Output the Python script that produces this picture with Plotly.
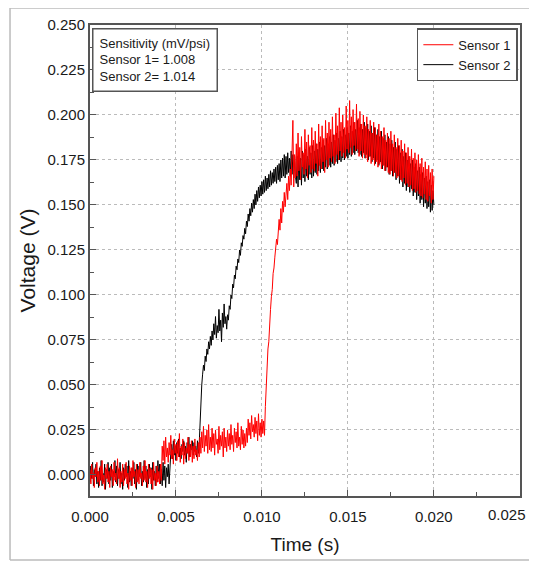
import numpy as np
import plotly.graph_objects as go

# samples every 0.05 ms from 0 to 20 ms; one row below = 1 ms
SAMPLE_MS = 0.05

# Sensor 1 (red), millivolts
sensor1_mv = [
    3, -5, 6, -2, 1, -7, 4, -1, 7, -4, 2, -6, 5, -3, 8, -5, 0, -8, 4, -2,
    6, -4, 2, -7, 5, -1, 3, -6, 7, -3, 1, -5, 9, -2, 4, -7, 2, -4, 6, -6,
    3, -2, 7, -5, 1, -8, 5, -3, 4, -6, 8, -1, 2, -7, 6, -4, 3, -5, 7, -2,
    1, -6, 5, -3, 8, -4, 2, -7, 6, -2, 4, -5, 3, -8, 7, -3, 1, -6, 5, -4,
    2, -5, 6, -3, 16, 8, 19, 6, 21, 10, 15, 7, 18, 11, 22, 9, 14, 6, 20, 12,
    17, 8, 19, 10, 23, 7, 16, 11, 20, 6, 18, 9, 15, 12, 21, 8, 17, 10, 19, 7,
    16, 9, 20, 11, 14, 8, 18, 10, 21, 12, 24, 15, 27, 13, 22, 16, 25, 12, 28, 14,
    21, 13, 26, 15, 23, 11, 25, 17, 20, 12, 27, 14, 22, 16, 24, 10, 26, 15, 21, 13,
    25, 16, 23, 14, 28, 17, 22, 13, 26, 18, 24, 15, 29, 16, 21, 14, 27, 17, 25, 15,
    23, 16, 26, 18, 31, 22, 29, 20, 33, 24, 28, 21, 32, 23, 30, 19, 34, 22, 29, 21,
    31, 23, 30, 22, 38, 52, 60, 70, 74, 86, 92, 99, 103, 112, 115, 121, 126, 131, 128, 138,
    142, 136, 148, 140, 152, 146, 157, 149, 155, 162, 153, 166, 158, 170, 161, 174, 197, 160, 178, 165,
    184, 166, 190, 169, 182, 164, 188, 171, 179, 167, 192, 170, 185, 165, 189, 172, 183, 168, 193, 170,
    186, 169, 191, 173, 184, 166, 195, 172, 188, 170, 194, 174, 187, 168, 197, 175, 190, 171, 196, 176,
    192, 174, 199, 177, 189, 173, 201, 178, 194, 175, 204, 180, 196, 177, 200, 179, 193, 176, 205, 181,
    197, 179, 208, 182, 199, 178, 203, 183, 196, 180, 206, 181, 198, 177, 202, 180, 195, 176, 200, 178,
    194, 176, 199, 174, 192, 177, 197, 173, 190, 175, 196, 172, 193, 174, 189, 171, 195, 173, 191, 170,
    188, 172, 193, 169, 186, 171, 190, 168, 187, 167, 191, 169, 184, 166, 189, 168, 182, 165, 187, 166,
    183, 164, 186, 163, 180, 165, 184, 161, 179, 162, 182, 160, 177, 161, 181, 158, 176, 159, 179, 157,
    175, 158, 178, 156, 173, 155, 176, 154, 171, 156, 174, 153, 170, 152, 172, 155, 168, 151, 170, 153,
    166,
]

# Sensor 2 (black), millivolts
sensor2_mv = [
    -4, 5, -2, 7, -6, 3, -1, 6, -5, 2, -7, 4, -3, 8, -6, 1, -4, 6, -8, 3,
    -2, 7, -5, 4, -3, 6, -7, 2, -1, 8, -4, 5, -6, 3, -2, 7, -5, 1, -8, 4,
    -3, 6, -1, 5, -7, 8, -4, 2, -6, 4, -2, 7, -5, 3, -8, 6, -3, 5, -1, 7,
    -6, 2, -4, 8, -2, 5, -7, 3, -5, 6, -1, 4, -8, 7, -3, 2, -6, 5, -4, 8,
    -2, 6, -5, 3, -6, 7, -3, 5, -7, 4, -1, 6, -5, 8, 12, 17, 9, 19, 11, 16,
    8, 18, 12, 20, 10, 15, 9, 17, 13, 19, 11, 16, 7, 18, 12, 21, 10, 17, 14, 19,
    11, 18, 13, 16, 10, 19, 12, 17, 30, 44, 50, 56, 61, 58, 66, 63, 70, 67, 74, 70,
    77, 72, 80, 75, 84, 78, 88, 76, 83, 79, 92, 80, 86, 74, 90, 82, 95, 84, 88, 81,
    89, 86, 94, 92, 100, 98, 106, 104, 111, 109, 116, 114, 120, 118, 125, 122, 129, 127, 133, 131,
    137, 134, 141, 138, 145, 141, 148, 144, 151, 146, 153, 148, 156, 150, 158, 152, 160, 154, 161, 155,
    163, 156, 164, 157, 166, 158, 165, 159, 167, 160, 169, 161, 168, 162, 170, 163, 171, 162, 172, 164,
    173, 163, 175, 165, 176, 166, 178, 165, 177, 167, 179, 168, 176, 166, 180, 167, 178, 165, 177, 166,
    162, 177, 160, 179, 164, 176, 161, 180, 165, 178, 163, 181, 166, 177, 164, 182, 167, 179, 165, 183,
    166, 180, 168, 184, 167, 181, 169, 185, 168, 182, 170, 186, 169, 183, 171, 187, 170, 184, 172, 188,
    171, 185, 173, 189, 172, 186, 174, 190, 173, 187, 175, 191, 174, 188, 176, 192, 175, 189, 177, 193,
    176, 190, 178, 194, 177, 191, 179, 196, 178, 192, 180, 197, 179, 193, 178, 195, 177, 192, 179, 196,
    176, 193, 178, 195, 175, 191, 177, 194, 174, 190, 176, 193, 173, 189, 175, 192, 172, 188, 174, 191,
    170, 187, 172, 189, 169, 185, 171, 188, 167, 184, 169, 186, 166, 182, 168, 185, 164, 181, 166, 183,
    162, 179, 164, 181, 160, 177, 162, 179, 158, 175, 160, 177, 157, 173, 159, 175, 155, 171, 157, 173,
    153, 169, 155, 171, 151, 167, 153, 168, 149, 165, 151, 166, 148, 163, 149, 164, 146, 161, 147, 158,
    150,
]

# x tick labels (the last one is placed by hand so it stays inside the page)
x_ticks = [0.0, 0.005, 0.010, 0.015, 0.020, 0.025]
x_ticktext = ["0.000", "0.005", "0.010", "0.015", "0.020", ""]

t1 = np.arange(len(sensor1_mv)) * SAMPLE_MS / 1000.0
t2 = np.arange(len(sensor2_mv)) * SAMPLE_MS / 1000.0
s1 = np.array(sensor1_mv) / 1000.0
s2 = np.array(sensor2_mv) / 1000.0

FONT = "Liberation Sans, Arial, sans-serif"
TXT = "#1a1a1a"

fig = go.Figure()
fig.add_trace(go.Scatter(x=t2, y=s2, mode="lines", name="Sensor 2",
                         line=dict(color="black", width=1), legendrank=2))
fig.add_trace(go.Scatter(x=t1, y=s1, mode="lines", name="Sensor 1",
                         line=dict(color="red", width=1), legendrank=1))

axis_common = dict(
    showline=True, linecolor="#555", linewidth=2, mirror=True,
    ticks="inside", ticklen=6, tickcolor="#555",
    showgrid=True, gridcolor="#bbb", griddash="dot", gridwidth=1,
    zeroline=False, automargin=False,
    tickfont=dict(size=15, color=TXT, family=FONT),
)

fig.update_xaxes(
    range=[0, 0.02501], tickvals=x_ticks, ticktext=x_ticktext,
    ticklabelstandoff=6,
    minor=dict(ticks="inside", ticklen=4, dtick=0.0025, tickcolor="#555"),
    title=dict(text="Time (s)", font=dict(size=19, color=TXT, family=FONT), standoff=14),
    **axis_common,
)
fig.update_yaxes(
    range=[-0.0117, 0.25], dtick=0.025, tick0=0, tickformat=".3f",
    minor=dict(ticks="inside", ticklen=4, dtick=0.0125, tickcolor="#555"),
    title=dict(text="Voltage (V)", font=dict(size=21, color=TXT, family=FONT), standoff=6),
    **axis_common,
)

fig.add_annotation(
    xref="paper", yref="paper", x=1.018, y=-0.017, xanchor="right", yanchor="top",
    text=f"{x_ticks[-1]:.3f}", showarrow=False,
    font=dict(size=15, color=TXT, family=FONT),
)

fig.add_annotation(
    xref="paper", yref="paper", x=0.005, y=0.993, xanchor="left", yanchor="top",
    text="Sensitivity (mV/psi)<br>Sensor 1= 1.008<br>Sensor 2= 1.014",
    align="left", showarrow=False, font=dict(size=13, color=TXT, family=FONT),
    bordercolor="#555", borderwidth=1.5, borderpad=6, bgcolor="white",
)

# light frame around the picture (top, left, bottom; open on the right)
frame = dict(color="#bbb", width=1.5)
fig.add_shape(type="line", xref="paper", yref="paper", x0=-0.186, x1=1.1, y0=1.036, y1=1.036, line=frame)
fig.add_shape(type="line", xref="paper", yref="paper", x0=-0.186, x1=-0.186, y0=-0.136, y1=1.036, line=frame)
fig.add_shape(type="line", xref="paper", yref="paper", x0=-0.186, x1=1.1, y0=-0.136, y1=-0.136, line=frame)

# the page has an 8px body margin, so the figure is a little smaller
fig.update_layout(
    width=529, height=555,
    margin=dict(l=82, r=17, t=17, b=67),
    paper_bgcolor="white", plot_bgcolor="white",
    font=dict(family=FONT, color=TXT),
    legend=dict(x=0.995, y=0.993, xanchor="right", yanchor="top",
                bordercolor="#555", borderwidth=1.5, bgcolor="white",
                font=dict(size=13, color=TXT, family=FONT),
                itemwidth=30, tracegroupgap=0),
)

fig.write_html("out.html")
